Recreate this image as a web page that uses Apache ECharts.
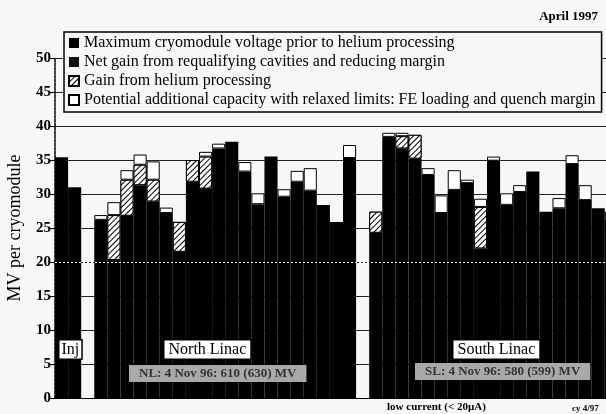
<!DOCTYPE html>
<html><head><meta charset="utf-8">
<script src="https://cdn.jsdelivr.net/npm/echarts@6/dist/echarts.min.js"></script>
<style>html,body{margin:0;padding:0;background:#f7f7f7;}#c{width:606px;height:414px;}</style>
</head><body><div id="c"></div>
<script>
// Slots: 2 injector modules, gap, 20 North Linac modules, gap, 20 South Linac modules
const categories = [
  'I1','I2','',
  'N01','N02','N03','N04','N05','N06','N07','N08','N09','N10',
  'N11','N12','N13','N14','N15','N16','N17','N18','N19','N20','',
  'S01','S02','S03','S04','S05','S06','S07','S08','S09','S10',
  'S11','S12','S13','S14','S15','S16','S17','S18','S19','S20'
];
// Maximum cryomodule voltage prior to helium processing (black, MV)
const maxPrior = [
  35.4, 31.0, '-',
  26.2, 20.3, 26.8, 31.3, 28.9, 27.2, 21.5, 31.8, 30.8, 36.7,
  37.7, 33.3, 28.5, 35.5, 29.6, 31.8, 30.5, 28.4, 25.9, 35.3, '-',
  24.3, 38.4, 36.7, 35.2, 32.8, 27.2, 30.6, 31.6, 22.0, 34.9,
  28.4, 30.3, 33.3, 27.4, 27.9, 34.4, 29.1, 27.9, 26.2, '-'
];
// Net gain from requalifying cavities and reducing margin (black; not separable in the print)
const netGain = [
  '-', '-', '-',
  '-', '-', '-', '-', '-', '-', '-', '-', '-', '-',
  '-', '-', '-', '-', '-', '-', '-', '-', '-', '-', '-',
  '-', '-', '-', '-', '-', '-', '-', '-', '-', '-',
  '-', '-', '-', '-', '-', '-', '-', '-', '-', '-'
];
// Gain from helium processing (hatched, MV)
const heGain = [
  '-', '-', '-',
  '-', 6.6, 5.3, 3.0, 3.2, '-', 4.4, 3.2, 4.7, '-',
  '-', '-', '-', '-', '-', '-', '-', '-', '-', '-', '-',
  3.1, '-', 1.8, 3.5, '-', '-', '-', '-', 6.1, '-',
  '-', '-', '-', '-', '-', '-', '-', '-', '-', '-'
];
// Potential additional capacity with relaxed limits (white, MV)
const potential = [
  '-', '-', '-',
  0.7, 1.9, 1.4, 1.5, 2.7, 0.8, '-', '-', 0.7, 0.7,
  '-', 1.4, 1.6, '-', 1.1, 1.6, 3.3, '-', '-', 1.9, '-',
  '-', 0.6, 0.5, '-', 1.0, 2.6, 2.9, 0.5, 1.2, 0.6,
  1.7, 1.0, '-', '-', 1.5, 1.3, 2.2, '-', 1.2, '-'
];
const yTicks = [0, 5, 10, 15, 20, 25, 30, 35, 40, 45, 50];

const serif = 'Liberation Serif';
const chart = echarts.init(document.getElementById('c'), null, {renderer: 'canvas'});
const hatch = {
  symbol: 'rect', symbolSize: 1,
  dashArrayX: [1, 0], dashArrayY: [1, 2.5],
  rotation: -Math.PI / 4,
  color: '#000', backgroundColor: '#fff'
};
const boxStyle = {fill: '#000', backgroundColor: '#fff', borderColor: '#000', borderWidth: 1.5};
chart.setOption({
  backgroundColor: '#f7f7f7',
  animation: false,
  grid: {left: 55, top: 58, width: 576, height: 340, containLabel: false, outerBoundsMode: 'none'},
  legend: {
    orient: 'vertical', left: 64, top: 32,
    itemWidth: 10, itemHeight: 10, itemGap: 3,
    padding: [3, 6, 4, 4],
    borderColor: '#000', borderWidth: 1.5,
    backgroundColor: '#f7f7f7',
    textStyle: {fontFamily: serif, fontSize: 16, color: '#000'},
    icon: 'rect',
    data: [
      'Maximum cryomodule voltage prior to helium processing',
      'Net gain from requalifying cavities and reducing margin',
      'Gain from helium processing',
      'Potential additional capacity with relaxed limits: FE loading and quench margin'
    ]
  },
  xAxis: {
    type: 'category', data: categories,
    axisLine: {lineStyle: {color: '#000', width: 1}},
    axisTick: {show: false}, axisLabel: {show: false}
  },
  yAxis: {
    type: 'value', min: 0, max: 50, interval: 5,
    name: 'MV per cryomodule', nameLocation: 'middle', nameGap: 31,
    nameTextStyle: {fontFamily: serif, fontSize: 18, color: '#000'},
    axisLine: {show: true, lineStyle: {color: '#000', width: 1.5, type: [3, 1]}},
    axisTick: {show: true, length: 5, lineStyle: {color: '#000'}},
    axisLabel: {fontFamily: serif, fontSize: 15, fontWeight: 'bold', color: '#000', margin: 4,
      formatter: v => yTicks.includes(v) ? String(v) : ''},
    splitLine: {show: true, lineStyle: {color: '#222', width: 1}}
  },
  series: [
    {name: 'Maximum cryomodule voltage prior to helium processing', type: 'bar', stack: 'cm',
     data: maxPrior, barCategoryGap: '0%', itemStyle: {color: '#000'}},
    {name: 'Net gain from requalifying cavities and reducing margin', type: 'bar', stack: 'cm',
     data: netGain, itemStyle: {color: '#111'}},
    {name: 'Gain from helium processing', type: 'bar', stack: 'cm',
     data: heGain, itemStyle: {color: '#fff', borderColor: '#000', borderWidth: 1, decal: hatch}},
    {name: 'Potential additional capacity with relaxed limits: FE loading and quench margin', type: 'bar', stack: 'cm',
     data: potential, itemStyle: {color: '#fff', borderColor: '#000', borderWidth: 1},
     markLine: {silent: true, symbol: 'none', label: {show: false},
       lineStyle: {color: '#fff', type: [2, 2], width: 1},
       data: [{yAxis: 20}]}}
  ],
  graphic: [
    {type: 'text', z: 100, right: 8, top: 10, style: {text: 'April 1997', font: 'bold 13px ' + serif, fill: '#000'}},
    {type: 'text', z: 100, left: 58, top: 339, style: Object.assign({text: 'Inj', font: '16px ' + serif, padding: [1, 2]}, boxStyle)},
    {type: 'text', z: 100, left: 163, top: 339, style: Object.assign({text: 'North Linac', font: '16px ' + serif, padding: [1, 4]}, boxStyle)},
    {type: 'text', z: 100, left: 452, top: 339, style: Object.assign({text: 'South Linac', font: '16px ' + serif, padding: [1, 4]}, boxStyle)},
    {type: 'text', z: 100, left: 129, top: 365, style: {text: 'NL: 4 Nov 96: 610 (630) MV', font: 'bold 13px ' + serif, fill: '#333',
      backgroundColor: '#a9a9a9', padding: [2, 10]}},
    {type: 'text', z: 100, left: 415, top: 363, style: {text: 'SL: 4 Nov 96: 580 (599) MV', font: 'bold 13px ' + serif, fill: '#333',
      backgroundColor: '#a9a9a9', padding: [2, 10]}},
    {type: 'text', z: 100, left: 387, top: 402, style: {text: 'low current (< 20µA)', font: 'bold 11px ' + serif, fill: '#000'}},
    {type: 'text', z: 100, left: 572, top: 404, style: {text: 'cy 4/97', font: 'bold 9px ' + serif, fill: '#000'}}
  ]
});
</script></body></html>
